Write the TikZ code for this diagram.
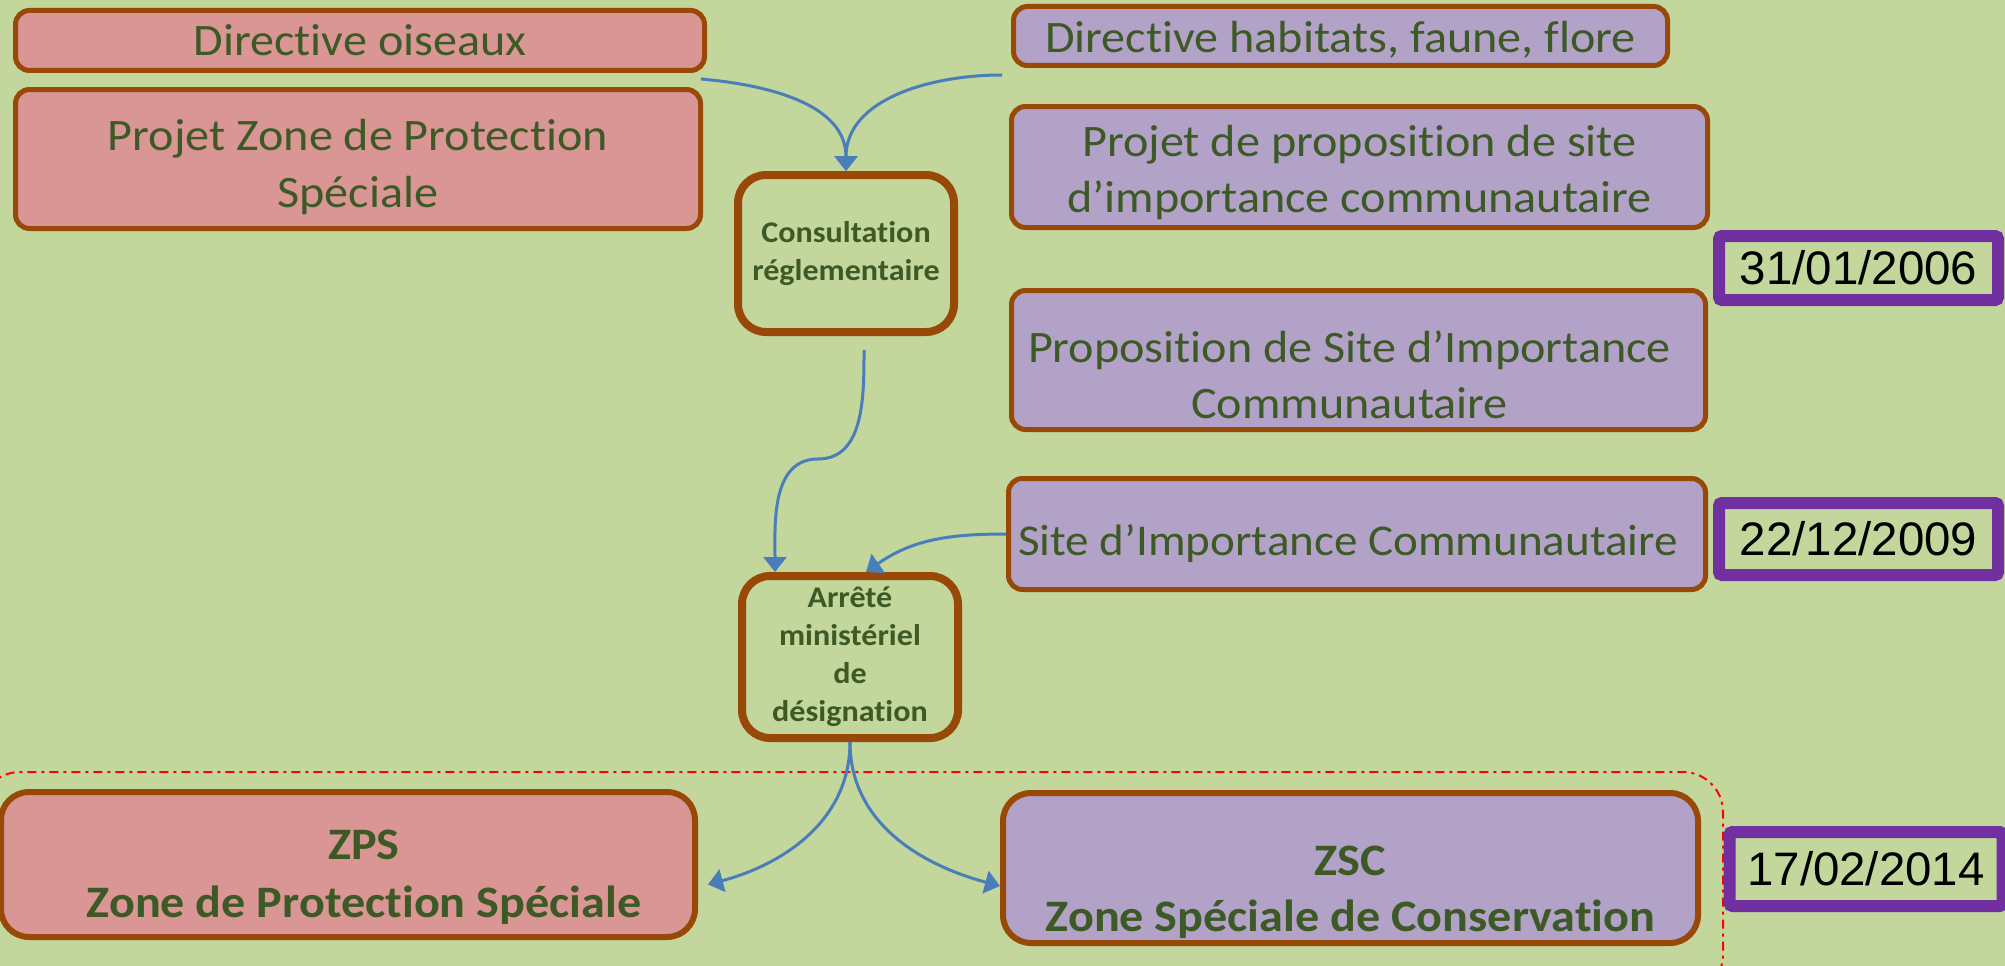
\documentclass[tikz,border=0pt]{standalone}
\usepackage{fontspec}
\setmainfont{Carlito}[Ligatures=NoCommon, FakeStretch=1.07]
\newfontfamily\arialfont{Liberation Sans}[FakeStretch=1.01]
\usetikzlibrary{arrows.meta,positioning,calc}
\definecolor{fond}{HTML}{C3D69B}
\definecolor{rose}{HTML}{D99694}
\definecolor{lilas}{HTML}{B3A2C7}
\definecolor{brun}{HTML}{984807}
\definecolor{vert}{HTML}{3D5A26}
\definecolor{violet}{HTML}{7030A0}
\definecolor{fleche}{HTML}{4A7EBB}
% deplace une ligne de texte sans changer la taille de la boite
\newcommand\decal[3]{\raisebox{-#2}[\height][\depth]{\hspace*{#1}#3\hspace*{-#1}}}
\tikzset{
  base/.style={rounded corners=14pt, align=center, inner sep=0pt, text=vert, draw=brun, line width=5pt, font=\fontsize{45}{56}\selectfont},
  rouge/.style={base, fill=rose},
  mauve/.style={base, fill=lilas},
  etape/.style={base, line width=8pt, rounded corners=28pt, minimum width=216pt, font=\fontsize{30}{38}\selectfont\bfseries},
  zone/.style={base, fill=#1, line width=6pt, rounded corners=28pt, font=\fontsize{45}{58}\selectfont\bfseries},
  date/.style={draw=violet, line width=12pt, rounded corners=3pt, inner sep=0pt, text=black, font=\arialfont\fontsize{47}{52}\selectfont},
  arr/.style={-{Triangle[length=15pt,width=23pt]}, line width=3pt, draw=fleche},
  cadre/.style={draw=red, line width=2pt, dash pattern=on 9pt off 5pt on 3pt off 5pt, rounded corners=40pt},
}
\begin{document}
\begin{tikzpicture}[x=1pt, y=1pt]
    \fill[fond] (0,0) rectangle (2005,-966);
    \useasboundingbox (0,0) rectangle (2005,-966);
    \draw[cadre] (-20,-772) rectangle (1723,-995);
    % directives et projets
    \node[rouge, minimum width=689pt, minimum height=60pt] (oiseaux) at (360,-40.5) {Directive oiseaux};
    \node[rouge, minimum width=685pt, minimum height=139pt, font=\fontsize{45}{57}\selectfont] (pzps) at (358,-159) {\decal{0pt}{8pt}{Projet Zone de Protection}\\\decal{0pt}{8pt}{Spéciale}};
    \node[mauve, minimum width=654pt, minimum height=59pt] (habitats) at (1340.5,-36) {\decal{0pt}{4pt}{Directive habitats, faune, flore}};
    \node[mauve, minimum width=696pt, minimum height=121pt] (psic) at (1359.5,-167) {\decal{0pt}{6pt}{Projet de proposition de site}\\\decal{0pt}{6pt}{d’importance communautaire}};
    \node[mauve, minimum width=694pt, minimum height=139pt] (propsic) at (1358.5,-360) {\decal{-9pt}{15pt}{Proposition de Site d’Importance}\\\decal{-9pt}{15pt}{Communautaire}};
    \node[mauve, minimum width=697pt, minimum height=111pt, font=\fontsize{44}{56}\selectfont] (sic) at (1357,-534) {\decal{-9pt}{10pt}{Site d’Importance Communautaire}};
    % etapes
    \node[etape, minimum height=157pt] (consult) at (846,-253.5) {Consultation\\réglementaire};
    \node[etape, minimum height=162pt] (arrete) at (850,-657) {Arrêté\\ministériel\\de\\désignation};
    % zones
    \node[zone=rose, minimum width=694pt, minimum height=145pt] (zps) at (348,-864.5) {\decal{16pt}{13pt}{ZPS}\\\decal{16pt}{13pt}{Zone de Protection Spéciale}};
    \node[zone=lilas, minimum width=695pt, minimum height=150pt, font=\fontsize{45}{56}\selectfont\bfseries] (zsc) at (1350.5,-868) {\decal{0pt}{24pt}{ZSC}\\\decal{0pt}{24pt}{Zone Spéciale de Conservation}};
    % dates
    \node[date, minimum width=279pt, minimum height=64pt] (d1) at (1858.5,-268) {31/01/2006};
    \node[date, minimum width=279pt, minimum height=72pt] (d2) at (1858.5,-539) {22/12/2009};
    \node[date, minimum width=273pt, minimum height=74pt] (d3) at (1866,-869) {17/02/2014};
    % fleches
    \draw[arr] ([shift={(-6,-6)}]oiseaux.south east) to[out=-5, in=90] (consult.north);
    \draw[arr] ([shift={(-9,-7)}]habitats.south west) to[out=180, in=90] (consult.north);
    \coordinate (pli) at (818,-459);
    \draw[arr] ([shift={(18,-14)}]consult.south) to[out=-90, in=0] (pli) to[out=180, in=90] ([xshift=-75pt]arrete.north);
    \draw[arr] (sic.west) to[out=180, in=35] ([xshift=16pt]arrete.north);
    \draw[arr] (arrete.south) to[out=-90, in=15] ([shift={(10,-20)}]zps.east);
    \draw[arr] (arrete.south) to[out=-90, in=165] ([yshift=-18pt]zsc.west);
  \end{tikzpicture}
\end{document}
